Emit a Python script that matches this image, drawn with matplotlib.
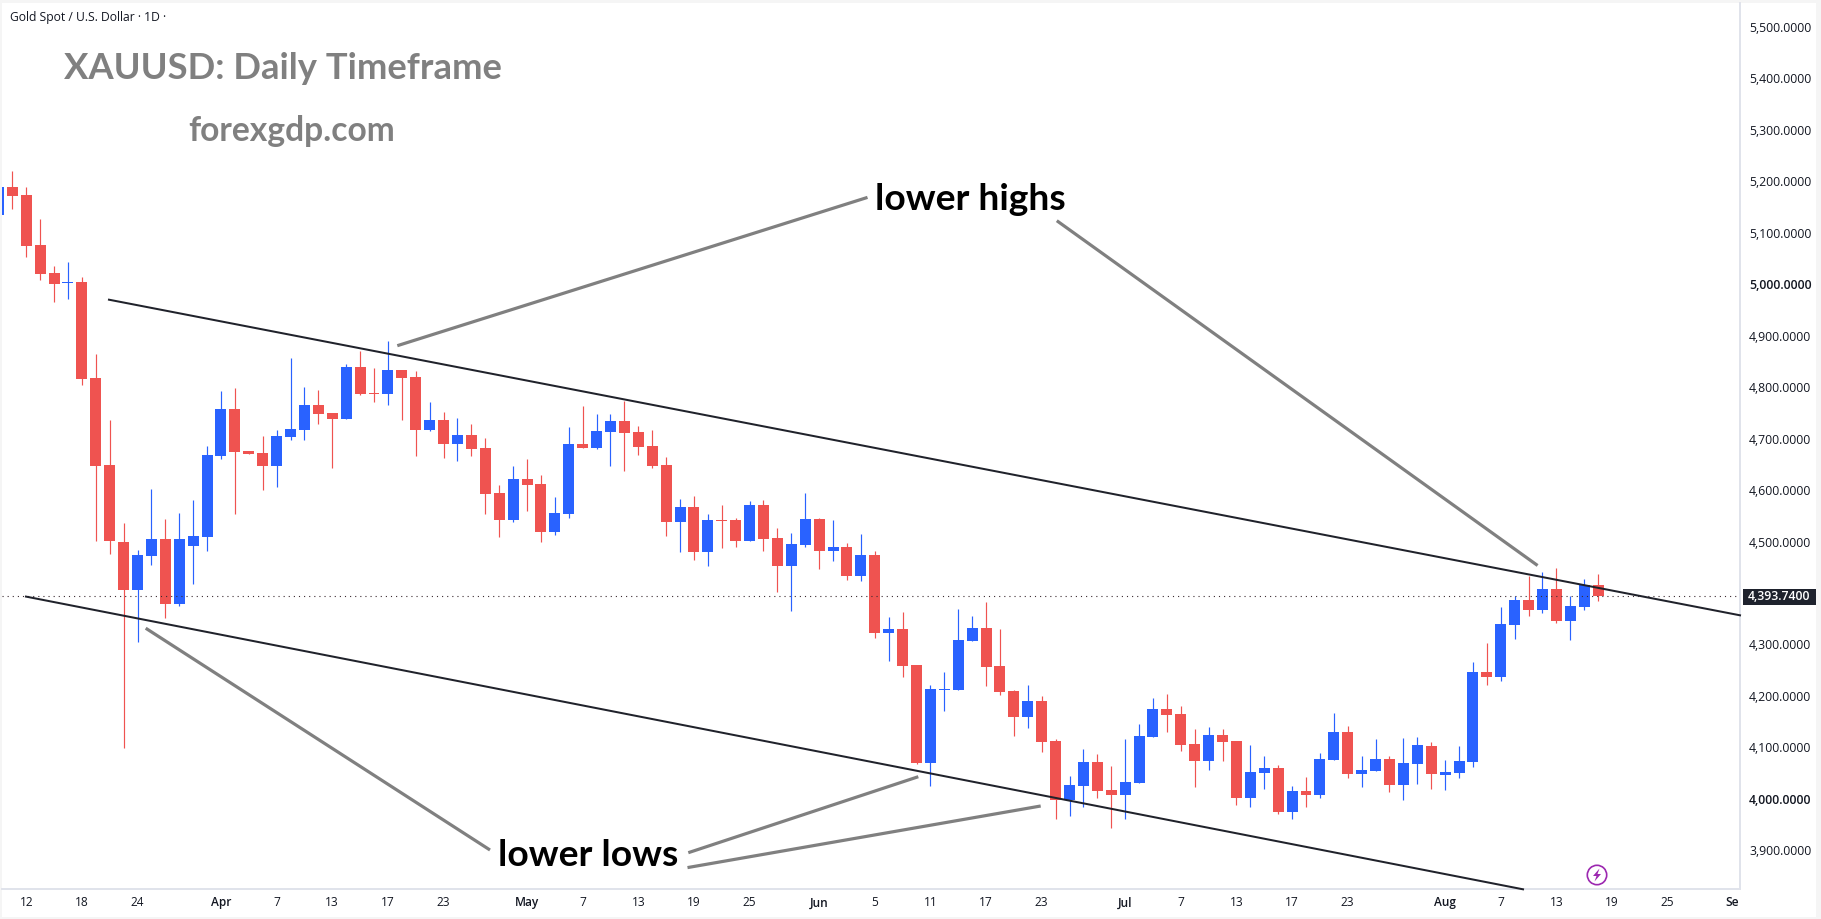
import matplotlib
matplotlib.use("Agg")
import matplotlib.pyplot as plt
from matplotlib.lines import Line2D
from matplotlib.patches import Rectangle, Circle, Polygon
from matplotlib.transforms import Bbox

# ---------- data ----------
opens = [5135,5189,5173,5077,5022,5003,5005,4818,4649,4499,4406,4472,4505,4379,4492,4509,4667,4757,4676,4672,
         4647,4703,4717,4765,4750,4739,4839,4788,4787,4834,4820,4717,4736,4689,4707,4681,4594,4542,4622,4612,
         4519,4553,4690,4682,4713,4734,4713,4686,4649,4538,4567,4480,4542,4542,4501,4571,4507,4452,4493,4544,
         4482,4489,4433,4474,4322,4330,4260,4070,4211,4211,4307,4332,4258,4209,4159,4190,4112,3998,4025,4071,
         4017,4007,4031,4120,4174,4165,4106,4073,4124,4112,4001,4050,4060,3974,4015,4007,4075,4130,4048,4054,
         4077,4027,4068,4102,4047,4051,4072,4246,4237,4338,4387,4366,4407,4346,4372,4415]
highs = [5189,5220,5189,5127,5035,5043,5014,4864,4736,4536,4484,4602,4544,4556,4581,4685,4792,4799,4676,4705,
         4717,4856,4800,4795,4750,4845,4870,4838,4890,4834,4831,4771,4752,4740,4728,4701,4610,4647,4660,4629,
         4587,4723,4763,4748,4748,4773,4725,4717,4664,4583,4588,4553,4571,4546,4579,4581,4526,4517,4594,4546,
         4542,4497,4515,4482,4353,4363,4260,4221,4246,4369,4355,4382,4330,4211,4221,4200,4116,4044,4097,4087,
         4064,4116,4145,4196,4204,4180,4136,4140,4136,4112,4104,4083,4066,4025,4042,4089,4167,4141,4083,4116,
         4083,4118,4120,4110,4076,4103,4266,4303,4372,4395,4434,4440,4448,4395,4428,4436]
lows = [5135,5146,5053,5009,4966,4971,4804,4501,4476,4099,4305,4454,4351,4375,4418,4482,4660,4553,4670,4600,
        4606,4697,4697,4728,4643,4739,4785,4771,4765,4736,4667,4715,4663,4657,4667,4553,4509,4538,4559,4499,
        4513,4546,4682,4680,4647,4637,4668,4643,4511,4480,4464,4452,4487,4489,4501,4482,4402,4365,4489,4447,
        4462,4425,4423,4312,4268,4237,4068,4025,4171,4211,4307,4219,4202,4122,4138,4091,3961,3966,3984,4001,
        3943,3961,4031,4120,4130,4093,4023,4056,4073,3988,3984,4019,3970,3961,3984,4001,4075,4040,4023,4054,
        4013,3998,4029,4019,4018,4041,4062,4221,4229,4311,4356,4362,4342,4309,4366,4385]
closes = [5189,5172,5074,5020,5001,5005,4816,4647,4501,4406,4474,4505,4379,4505,4510,4668,4757,4674,4670,4647,
          4705,4719,4765,4748,4739,4839,4787,4787,4834,4818,4717,4736,4689,4707,4680,4592,4542,4622,4610,4519,
          4555,4690,4682,4715,4734,4711,4684,4647,4538,4567,4480,4542,4540,4501,4571,4505,4452,4495,4544,4482,
          4489,4433,4474,4322,4330,4258,4070,4213,4213,4309,4332,4256,4207,4159,4190,4110,3998,4027,4071,4015,
          4007,4033,4122,4174,4163,4104,4073,4124,4110,4001,4052,4060,3974,4015,4007,4077,4130,4048,4056,4077,
          4027,4070,4104,4048,4052,4074,4246,4237,4340,4387,4366,4407,4346,4374,4415,4393.74]

x_tick_pos = [2,6,10,16,20,24,28,32,38,42,46,50,54,59,63,67,71,75,81,85,89,93,97,104,108,112,116,120,124.9]
x_tick_labels = ['12','18','24','Apr','7','13','17','23','May','7','13','19','25','Jun','5','11','17','23',
                 'Jul','7','13','17','23','Aug','7','13','19','25','Sep']
bold_x_labels = ['Apr','May','Jun','Jul','Aug','Sep']
y_ticks = [3900,4000,4100,4200,4300,4500,4600,4700,4800,4900,5000,5100,5200,5300,5400,5500]
last_price = 4393.74

UP = '#2962FF'
DOWN = '#EF5350'
TXT = '#131722'
W, H = 1821, 919
FONT = 'Open Sans'

# ---------- figure ----------
fig = plt.figure(figsize=(W/100, H/100), dpi=100, facecolor='#f5f5f5')
ax_bg = fig.add_axes([0, 0, 1, 1], zorder=0)
ax_bg.set_xlim(0, W); ax_bg.set_ylim(H, 0); ax_bg.axis('off')
ax_bg.add_patch(Rectangle((2, 3), 1814, 914, fc='white', ec='none'))

ax = fig.add_axes([2/W, (H-889)/H, 1738/W, 886/H], zorder=1, facecolor='none')
ax.set_xlim(0.2574, 125.2)
ax.set_ylim(3824.7, 5546.7)

idx = list(range(len(opens)))
for i in idx:
    o, h, l, c = opens[i], highs[i], lows[i], closes[i]
    col = UP if c >= o else DOWN
    ax.vlines(i, l, h, color=col, lw=0.85, zorder=3)
    ax.bar(i, abs(c-o), bottom=min(o, c), width=0.79, color=col, lw=0, zorder=4)

ax.axhline(last_price, color='#3a2a30', lw=0.8, ls=(0, (1, 3.6)), zorder=5)

for s in ['top', 'left']:
    ax.spines[s].set_visible(False)
for s in ['right', 'bottom']:
    ax.spines[s].set_color('#e0e3eb')
    ax.spines[s].set_linewidth(1.4)

ax.set_xticks(x_tick_pos)
ax.set_xticklabels(x_tick_labels, fontfamily=FONT, fontsize=8.6, color=TXT)
ax.yaxis.tick_right()
ax.set_yticks(y_ticks)
ax.set_yticklabels([f'{t:,.4f}' for t in y_ticks], fontfamily=FONT, fontsize=8.8, color=TXT,
                   va='center_baseline')
ax.tick_params(axis='both', length=0)
ax.tick_params(axis='x', pad=5.3)
ax.tick_params(axis='y', pad=6.5)
clip = Bbox([[0, 0], [1739, H]])
for lab in ax.get_xticklabels():
    lab.set_clip_on(True)
    lab.set_clip_box(clip)
    if lab.get_text() in bold_x_labels:
        lab.set_fontweight(600)
for lab in ax.get_yticklabels():
    if lab.get_text() in ('4,000.0000', '5,000.0000'):
        lab.set_fontweight(600)

# ---------- drawings on the chart ----------
ov = fig.add_axes([0, 0, 1, 1], zorder=2, facecolor='none')
ov.set_xlim(0, W); ov.set_ylim(H, 0); ov.axis('off')

trend_up = ([108, 1741], [299.5, 615.5])
trend_dn = ([25, 1524], [596.4, 889.5])
for tx, ty in (trend_up, trend_dn):
    ov.add_line(Line2D(tx, ty, color='#20222b', lw=1.45, solid_capstyle='butt'))

gray_lines = [([397.3, 867.5], [345.7, 197.4]),
              ([1056.8, 1537.6], [220.7, 565.5]),
              ([145.7, 490], [628.2, 850]),
              ([688.3, 918.3], [852.7, 776.7]),
              ([687.5, 1040.7], [867.6, 806])]
for gx, gy in gray_lines:
    ov.add_line(Line2D(gx, gy, color='#808080', lw=2.3, solid_capstyle='butt'))

# price tag
ov.add_patch(Rectangle((1742.5, 588.5), 73.5, 16.5, fc='#1e222d', ec='none'))
ov.text(1779.5, 596.8, f'{last_price:,.4f}', color='white', fontsize=8.8, fontfamily=FONT,
        fontweight=600, ha='center', va='center')

# lightning icon
ov.add_patch(Circle((1597, 875), 9.7, fc='white', ec='#9C27B0', lw=1.2))
ov.add_patch(Polygon([(1599.5, 868.5), (1593, 876), (1596.5, 876), (1594.5, 881.5), (1601, 874), (1597.5, 874)],
                     closed=True, fc='#9C27B0', ec='none'))

# texts
ov.text(10, 17.5, 'Gold Spot / U.S. Dollar · 1D ·', fontfamily=FONT, fontsize=8.7, color=TXT, va='center', ha='left')
ov.text(64, 79, 'XAUUSD: Daily Timeframe', fontfamily='Lato', fontweight='bold', fontsize=26.2, color='#808080',
        va='baseline', ha='left')
ov.text(188, 141, 'forexgdp.com', fontfamily='Lato', fontweight='bold', fontsize=24.2, color='#808080',
        va='baseline', ha='left')
ov.text(875, 210, 'lower highs', fontfamily='Lato', fontweight='bold', fontsize=26.8, color='black',
        va='baseline', ha='left')
ov.text(498, 866.5, 'lower lows', fontfamily='Lato', fontweight='bold', fontsize=26.8, color='black',
        va='baseline', ha='left')

fig.savefig('out.png', dpi=100, facecolor=fig.get_facecolor())
